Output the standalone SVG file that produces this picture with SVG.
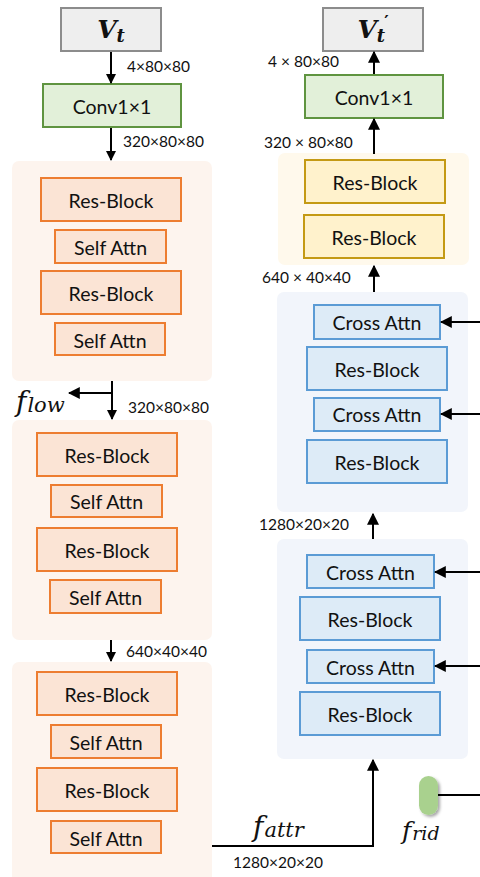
<svg xmlns="http://www.w3.org/2000/svg" width="480" height="877" viewBox="0 0 480 877">
<defs>
<marker id="ah" viewBox="0 0 10 10" refX="9" refY="5" markerWidth="10" markerHeight="10" markerUnits="userSpaceOnUse" orient="auto">
<path d="M0,0 L10,5 L0,10 z" fill="#000"/>
</marker>
<marker id="ahs" viewBox="0 0 10 10" refX="9" refY="5" markerWidth="12" markerHeight="12" markerUnits="userSpaceOnUse" orient="auto">
<path d="M0,0 L10,5 L0,10 z" fill="#000"/>
</marker>
<filter id="sh" x="-50%" y="-50%" width="200%" height="200%">
<feDropShadow dx="2" dy="2" stdDeviation="1.5" flood-color="#000" flood-opacity="0.35"/>
</filter>
</defs>
<style>
.t{font-family:"Lato","Open Sans","Liberation Sans",sans-serif;font-size:19.5px;fill:#111;text-anchor:middle;dominant-baseline:central}
.d{font-family:"Lato","Open Sans","Liberation Sans",sans-serif;font-size:15.5px;fill:#111}
.m{font-family:"DejaVu Serif","Liberation Serif",serif;font-style:italic;fill:#111}
.gray{fill:#eeeeee;stroke:#8c8c8c;stroke-width:2}
.grn{fill:#e2f0d9;stroke:#5f9440;stroke-width:2}
.obg{fill:#fdf4ee}
.ob{fill:#fbe4d5;stroke:#ed7d31;stroke-width:2}
.ybg{fill:#fff9ec}
.yb{fill:#fff2cc;stroke:#c49a14;stroke-width:2}
.bbg{fill:#f2f5fb}
.bb{fill:#ddebf7;stroke:#5b9bd5;stroke-width:2}
.ln{stroke:#000;stroke-width:2;fill:none}
</style>

<!-- backgrounds -->
<rect class="obg" x="12" y="161" width="200" height="220" rx="7"/>
<rect class="obg" x="12" y="420" width="200" height="220" rx="7"/>
<rect class="obg" x="12" y="662" width="200" height="225" rx="7"/>
<rect class="ybg" x="278" y="153" width="191" height="112" rx="7"/>
<rect class="bbg" x="277" y="292" width="191" height="220" rx="7"/>
<rect class="bbg" x="277" y="539" width="191" height="220" rx="7"/>

<g id="vt">
<rect class="gray" x="61" y="8" width="100" height="43"/>
<text x="111" y="38" class="m" font-weight="bold" font-size="25" text-anchor="middle">V<tspan font-size="18" dy="4">t</tspan></text>
</g>
<g id="conv-l">
<rect class="grn" x="43" y="84" width="138" height="43"/>
<text class="t" x="112" y="106">Conv1×1</text>
</g>

<g id="l1-rb1"><rect class="ob" x="41" y="178" width="140" height="43"/><text class="t" x="111" y="200">Res-Block</text></g>
<g id="l1-sa1"><rect class="ob" x="55" y="230" width="111" height="33"/><text class="t" x="110.5" y="247">Self Attn</text></g>
<g id="l1-rb2"><rect class="ob" x="41" y="271" width="140" height="43"/><text class="t" x="111" y="293">Res-Block</text></g>
<g id="l1-sa2"><rect class="ob" x="55" y="323" width="110" height="32"/><text class="t" x="110" y="340">Self Attn</text></g>

<g id="l2-rb1"><rect class="ob" x="37" y="433" width="140" height="43"/><text class="t" x="107" y="455">Res-Block</text></g>
<g id="l2-sa1"><rect class="ob" x="51" y="485" width="111" height="32"/><text class="t" x="106.5" y="501">Self Attn</text></g>
<g id="l2-rb2"><rect class="ob" x="37" y="528" width="140" height="43"/><text class="t" x="107" y="550">Res-Block</text></g>
<g id="l2-sa2"><rect class="ob" x="50" y="580" width="111" height="33"/><text class="t" x="105.5" y="597">Self Attn</text></g>

<g id="l3-rb1"><rect class="ob" x="37" y="672" width="140" height="43"/><text class="t" x="107" y="694">Res-Block</text></g>
<g id="l3-sa1"><rect class="ob" x="51" y="725" width="110" height="33"/><text class="t" x="106" y="742">Self Attn</text></g>
<g id="l3-rb2"><rect class="ob" x="37" y="768" width="140" height="43"/><text class="t" x="107" y="790">Res-Block</text></g>
<g id="l3-sa2"><rect class="ob" x="51" y="821" width="110" height="32"/><text class="t" x="106" y="838">Self Attn</text></g>

<g id="vt2">
<rect class="gray" x="323" y="8" width="100" height="43"/>
<text x="373" y="38" class="m" font-weight="bold" font-size="25" text-anchor="middle">V<tspan font-size="18" dy="4">t</tspan><tspan font-size="17" font-style="normal" dx="-1" dy="-15">′</tspan></text>
</g>
<g id="conv-r">
<rect class="grn" x="305" y="75" width="138" height="43"/>
<text class="t" x="374" y="97">Conv1×1</text>
</g>

<g id="y-rb1"><rect class="yb" x="305" y="160" width="140" height="43"/><text class="t" x="375" y="182">Res-Block</text></g>
<g id="y-rb2"><rect class="yb" x="304" y="215" width="140" height="43"/><text class="t" x="374" y="237">Res-Block</text></g>

<g id="b1-ca1"><rect class="bb" x="314" y="305" width="126" height="34"/><text class="t" x="377" y="322">Cross Attn</text></g>
<g id="b1-rb1"><rect class="bb" x="307" y="347" width="140" height="43"/><text class="t" x="377" y="369">Res-Block</text></g>
<g id="b1-ca2"><rect class="bb" x="314" y="398" width="126" height="33"/><text class="t" x="377" y="414.5">Cross Attn</text></g>
<g id="b1-rb2"><rect class="bb" x="307" y="440" width="140" height="43"/><text class="t" x="377" y="462">Res-Block</text></g>

<g id="b2-ca1"><rect class="bb" x="307" y="555" width="127" height="33"/><text class="t" x="370.5" y="572">Cross Attn</text></g>
<g id="b2-rb1"><rect class="bb" x="300" y="597" width="140" height="43"/><text class="t" x="370" y="619">Res-Block</text></g>
<g id="b2-ca2"><rect class="bb" x="307" y="650" width="127" height="33"/><text class="t" x="370.5" y="667">Cross Attn</text></g>
<g id="b2-rb2"><rect class="bb" x="300" y="692" width="140" height="43"/><text class="t" x="370" y="714">Res-Block</text></g>

<g id="frid">
<rect x="419" y="776" width="19" height="39" rx="9.5" fill="#a9d18e" filter="url(#sh)"/>
</g>

<g id="connectors">
<line class="ln" x1="111" y1="52" x2="111" y2="83" marker-end="url(#ah)"/>
<line class="ln" x1="111" y1="128" x2="111" y2="160" marker-end="url(#ah)"/>
<line class="ln" x1="112" y1="381" x2="112" y2="419" marker-end="url(#ah)"/>
<line class="ln" x1="112" y1="393" x2="69" y2="393" marker-end="url(#ahs)"/>
<line class="ln" x1="111" y1="640" x2="111" y2="661" marker-end="url(#ah)"/>
<polyline class="ln" points="212,846 373,846 373,760" marker-end="url(#ahs)"/>
<line class="ln" x1="374" y1="74" x2="374" y2="52" marker-end="url(#ahs)"/>
<line class="ln" x1="374" y1="154" x2="374" y2="119" marker-end="url(#ahs)"/>
<line class="ln" x1="374" y1="292" x2="374" y2="266" marker-end="url(#ahs)"/>
<line class="ln" x1="373" y1="539" x2="373" y2="514" marker-end="url(#ahs)"/>
<line class="ln" x1="480" y1="322" x2="441" y2="322" marker-end="url(#ahs)"/>
<line class="ln" x1="480" y1="414" x2="441" y2="414" marker-end="url(#ahs)"/>
<line class="ln" x1="480" y1="572" x2="435" y2="572" marker-end="url(#ahs)"/>
<line class="ln" x1="480" y1="666" x2="435" y2="666" marker-end="url(#ahs)"/>
<line class="ln" x1="438" y1="795" x2="480" y2="795"/>
</g>

<g id="labels">
<text class="d" x="127" y="72">4×80×80</text>
<text class="d" x="123" y="147">320×80×80</text>
<text class="d" x="128" y="413">320×80×80</text>
<text class="d" x="126" y="657">640×40×40</text>
<text class="d" x="233" y="868">1280×20×20</text>
<text class="d" x="268" y="67">4 × 80×80</text>
<text class="d" x="264" y="148">320 × 80×80</text>
<text class="d" x="262" y="283">640 × 40×40</text>
<text class="d" x="259" y="530">1280×20×20</text>
<text class="m" x="16" y="411" font-size="28">f<tspan font-size="21" dx="1" dy="1">low</tspan></text>
<text class="m" x="253" y="836" font-size="28">f<tspan font-size="21" dx="1" dy="1">attr</tspan></text>
<text class="m" x="402" y="839" font-size="25">f<tspan font-size="19" dx="1" dy="1">rid</tspan></text>
</g>
</svg>
